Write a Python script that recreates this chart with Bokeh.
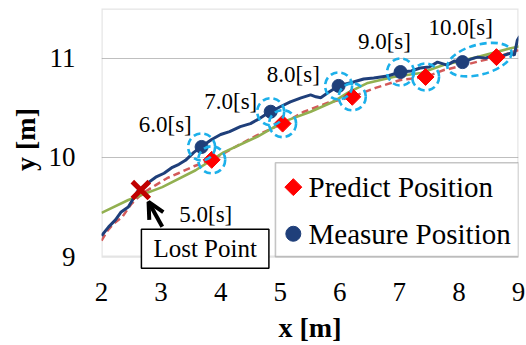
import math
from bokeh.plotting import figure
from bokeh.models import Range1d, Label, Arrow, OpenHead, BoxAnnotation, FixedTicker
from bokeh.core.properties import value
from bokeh.embed import file_html
from bokeh.resources import INLINE

SERIF = "Liberation Serif"

# ---- data ----
x_ticks = [2, 3, 4, 5, 6, 7, 8, 9]
y_ticks = [9, 10, 11]

measured_traj_x = [2.00, 2.12, 2.235, 2.33, 2.45, 2.55, 2.62, 2.75, 2.91, 3.05, 3.19, 3.30, 3.41,
                   3.55, 3.68, 3.85, 4.00, 4.15, 4.33, 4.50, 4.62, 4.75, 4.84, 5.00, 5.17, 5.35,
                   5.51, 5.60, 5.68, 5.80, 5.98, 6.10, 6.23, 6.40, 6.57, 6.80, 7.02, 7.20, 7.35,
                   7.50, 7.64, 7.80, 7.92, 8.06, 8.20, 8.31, 8.45, 8.58, 8.72, 8.87, 8.93, 8.98, 9.02]
measured_traj_y = [9.21, 9.30, 9.37, 9.45, 9.50, 9.60, 9.67, 9.73, 9.80, 9.84, 9.90, 9.93, 9.97,
                   10.05, 10.11, 10.18, 10.23, 10.26, 10.31, 10.34, 10.38, 10.43, 10.46, 10.51, 10.56, 10.60,
                   10.63, 10.61, 10.60, 10.65, 10.72, 10.74, 10.76, 10.79, 10.80, 10.82, 10.86, 10.87, 10.90,
                   10.91, 10.96, 10.93, 10.97, 10.96, 10.99, 11.01, 11.00, 11.03, 11.02, 11.05, 11.03, 11.18, 11.22]

predict_traj_x = [2.00, 2.10, 2.20, 2.35, 2.50, 2.62, 2.75, 2.91, 3.10, 3.29, 3.55, 3.85, 4.20,
                  4.60, 5.04, 5.40, 5.80, 6.21, 6.60, 7.02, 7.44, 7.75, 8.03, 8.35, 8.63, 9.00]
predict_traj_y = [9.16, 9.26, 9.33, 9.40, 9.53, 9.60, 9.66, 9.72, 9.79, 9.84, 9.91, 9.975, 10.09,
                  10.22, 10.34, 10.46, 10.55, 10.61, 10.70, 10.78, 10.81, 10.88, 10.92, 10.97, 11.01, 11.08]

smooth_traj_x = [2.00, 2.45, 3.02, 3.58, 4.05, 4.62, 5.06, 5.51, 5.89, 6.13, 6.47, 6.90, 7.36,
                 7.74, 8.31, 8.87, 9.03]
smooth_traj_y = [9.44, 9.57, 9.70, 9.87, 10.05, 10.21, 10.36, 10.46, 10.56, 10.65, 10.75, 10.81, 10.85,
                 10.93, 11.01, 11.10, 11.12]

measure_x = [3.68, 4.84, 5.98, 7.02, 8.06]
measure_y = [10.105, 10.46, 10.72, 10.86, 10.96]
predict_x = [3.85, 5.04, 6.21, 7.44, 8.63]
predict_y = [9.975, 10.34, 10.61, 10.81, 11.01]

lost_x = [2.66]
lost_y = [9.67]

time_labels = ["5.0[s]", "6.0[s]", "7.0[s]", "8.0[s]", "9.0[s]", "10.0[s]"]
time_label_x = [3.75, 3.07, 4.17, 5.22, 6.75, 8.03]
time_label_y = [9.42, 10.33, 10.56, 10.84, 11.17, 11.31]

legend_labels = ["Predict Position", "Measure Position"]

X_MIN, X_MAX = 2, 9
Y_MIN, Y_MAX = 9, 11.5

# ---- figure ----
p = figure(width=526, height=345, x_range=Range1d(X_MIN, X_MAX), y_range=Range1d(8.86, Y_MAX),
           output_backend="svg", toolbar_location=None,
           min_border_left=101, min_border_right=8, min_border_top=8, min_border_bottom=74)
p.background_fill_color = "white"
p.border_fill_color = "white"
p.outline_line_color = None

p.xaxis.ticker = FixedTicker(ticks=x_ticks)
p.yaxis.ticker = FixedTicker(ticks=y_ticks)
p.xaxis.axis_label = "x [m]"
p.yaxis.axis_label = "y [m]"
for ax in (p.xaxis, p.yaxis):
    ax.axis_line_color = None
    ax.major_tick_line_color = None
    ax.minor_tick_line_color = None
    ax.major_tick_out = 0
    ax.major_tick_in = 0
    ax.major_label_text_font = SERIF
    ax.major_label_text_font_size = "27px"
    ax.major_label_text_color = "black"
    ax.axis_label_text_font = SERIF
    ax.axis_label_text_font_size = "28px"
    ax.axis_label_text_font_style = "bold"
    ax.axis_label_text_color = "black"
p.xaxis.major_label_standoff = 12
p.yaxis.major_label_standoff = 26
p.xaxis.axis_label_standoff = 8
p.yaxis.axis_label_standoff = 5

p.xgrid.visible = False
p.ygrid.ticker = FixedTicker(ticks=[10, 11])
p.ygrid.grid_line_color = "#BFBFBF"
p.ygrid.grid_line_width = 1.2

# plot-area border (the frame reaches a bit below y=9 to leave room for the callout)
p.add_layout(BoxAnnotation(left=X_MIN, right=X_MAX, bottom=Y_MIN, top=Y_MAX, fill_alpha=0,
                           line_color="#A6A6A6", line_width=2.4, level="underlay"))

# legend box (manual)
p.add_layout(BoxAnnotation(left=4.92, right=X_MAX, bottom=Y_MIN, top=9.945, fill_color="white",
                           fill_alpha=1, line_color="#404040", line_width=1.6, level="underlay"))

# trajectories
p.line(predict_traj_x, predict_traj_y, line_color="#D35A5A", line_width=2.5, line_dash="7 4")
p.line(smooth_traj_x, smooth_traj_y, line_color="#92B050", line_width=2.6)
p.line(measured_traj_x, measured_traj_y, line_color="#1F3F7A", line_width=3)

# points
p.scatter(measure_x, measure_y, marker="circle", size=13, fill_color="#1F3F7A", line_color="#1F3F7A")
p.scatter(predict_x, predict_y, marker="square", angle=math.pi / 4, size=12,
          fill_color="#FF0000", line_color="#FF0000")

# dashed highlight circles
p.ellipse(x=measure_x[:4] + predict_x[:4], y=measure_y[:4] + predict_y[:4], width=27, height=27,
          width_units="screen", height_units="screen", fill_color=None,
          line_color="#1CB0EA", line_width=2.6, line_dash="7 4")
p.ellipse(x=[(measure_x[4] + predict_x[4]) / 2], y=[(measure_y[4] + predict_y[4]) / 2],
          width=66, height=30, angle=0.26, width_units="screen", height_units="screen",
          fill_color=None, line_color="#1CB0EA", line_width=2.6, line_dash="7 4")

# lost point
p.scatter(lost_x, lost_y, marker="x", size=24, line_color="#C00000", line_width=5)

# time labels
p.text(x=time_label_x, y=time_label_y, text=time_labels, text_font=value(SERIF),
       text_font_size="23px", text_align="center", text_baseline="middle", text_color="black")

# legend entries
p.scatter([5.22], [9.70], marker="square", angle=math.pi / 4, size=12,
          fill_color="#FF0000", line_color="#FF0000")
p.scatter([5.22], [9.23], marker="circle", size=15, fill_color="#1F3F7A", line_color="#1F3F7A")
p.text(x=[5.475, 5.475], y=[9.70, 9.23], text=legend_labels, text_font=value(SERIF),
       text_font_size="29px", text_align="left", text_baseline="middle", text_color="black")

# arrow + lost point box
p.add_layout(Arrow(x_start=3.02, y_start=9.30, x_end=2.79, y_end=9.55, line_width=4,
                   line_color="black",
                   end=OpenHead(size=16, line_width=4, line_color="black")))
p.add_layout(Label(x=3.74, y=9.08, text="Lost Point", text_font=SERIF, text_font_size="25px",
                   text_align="center", text_baseline="middle", text_color="black",
                   border_line_color="black", border_line_width=1.5,
                   background_fill_color="white",
                   padding=dict(left=12, right=12, top=6, bottom=6)))

open("out.html", "w").write(file_html(p, INLINE))
